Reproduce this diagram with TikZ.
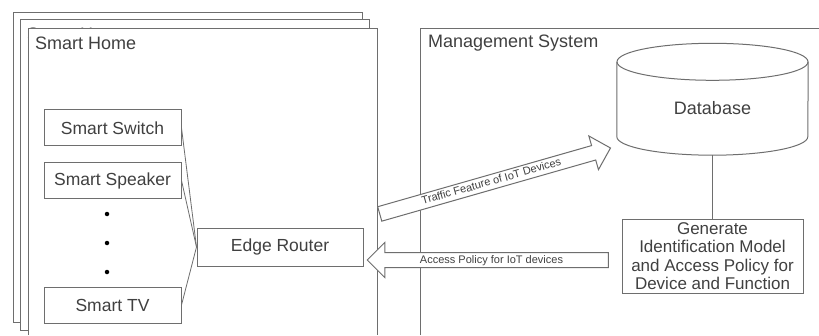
\documentclass[tikz,border=0pt]{standalone}
\usepackage{fontspec}
\setmainfont{Liberation Sans}
\usetikzlibrary{shapes.arrows}
\definecolor{linegray}{HTML}{6E6E6E}
\definecolor{textgray}{HTML}{404040}
\begin{document}
\begin{tikzpicture}[
  x=1pt, y=1pt,
  frame/.style={draw=linegray, fill=white, line width=1pt},
  title/.style={anchor=west, inner sep=0pt, text=textgray, font=\fontsize{18}{20}\selectfont},
  box/.style={draw=linegray, line width=1pt, minimum width=137pt, minimum height=36pt, inner sep=2pt, text=textgray, font=\fontsize{17.5}{19}\selectfont},
  link/.style={draw=linegray, line width=0.8pt},
  flow/.style={single arrow, draw=linegray, fill=white, line width=1pt, single arrow head extend=10pt, single arrow head indent=0pt, minimum height=240pt, inner xsep=2pt, inner ysep=2pt, text height=8pt, text depth=2pt, text=textgray, font=\fontsize{11}{12}\selectfont}
]
  \useasboundingbox (0,0) rectangle (819,335);

  % Smart Home (stacked)
  \draw[frame] (13,13) rectangle (362,322);
  \node[title] (home3) at (20,308) {Smart Home};
  \draw[frame] (20,5) rectangle (369,315);
  \node[title] (home2) at (27,301) {Smart Home};
  \fill[white] (28,0) rectangle (377,306);
  \draw[frame] (28,0) |- (377,306) -- (377,0);
  \node[title] (home) at (35,292) {Smart Home};

  % Devices
  \node[box] (switch) at (112.5,207) {Smart Switch};
  \node[box] (speaker) at (112.5,154.5) {Smart Speaker};
  \foreach \y [count=\i] in {121,92,63}
    \node[circle, fill=black, inner sep=0pt, minimum size=4.5pt] (dot\i) at (107,\y) {};
  \node[box] (tv) at (112.5,30) {Smart TV};

  % Edge Router
  \node[box, minimum width=166pt, minimum height=38pt] (router) at (280,88) {Edge Router};

  \draw[link] (switch.east) -- (router.west);
  \draw[link] (speaker.east) -- (router.west);
  \draw[link] (tv.east) -- (router.west);

  % Management System
  \draw[frame] (420,0) |- (819,306);
  \node[title] (mgmt) at (428,292) {Management System};

  % Database
  \node[text=textgray, font=\fontsize{18}{20}\selectfont, minimum width=191pt, minimum height=93pt, inner sep=0pt] (db) at (712.5,226.5) {Database};
  \draw[draw=linegray, line width=1pt] (db.north west) -- ([yshift=18.5pt]db.south west)
    arc[start angle=180, end angle=360, x radius=95.5pt, y radius=18.5pt] -- (db.north east);
  \draw[draw=linegray, line width=1pt] (db.north) ellipse [x radius=95.5pt, y radius=18.5pt];

  % Model generation
  \node[box, minimum width=181pt, minimum height=74pt, align=center, font=\fontsize{17}{18.5}\selectfont] (gen) at (712.5,79)
    {Generate\\Identification Model\\and Access Policy for\\Device and Function};

  \draw[link, line width=1pt] (db.south) -- (gen.north);

  % Flows
  \node[flow, rotate=15.95] (traffic) at (491.5,153) {Traffic Feature of IoT Devices};
  \node[flow, shape border rotate=180, minimum height=241pt] (policy) at (491.5,75) {Access Policy for IoT devices};
\end{tikzpicture}
\end{document}
